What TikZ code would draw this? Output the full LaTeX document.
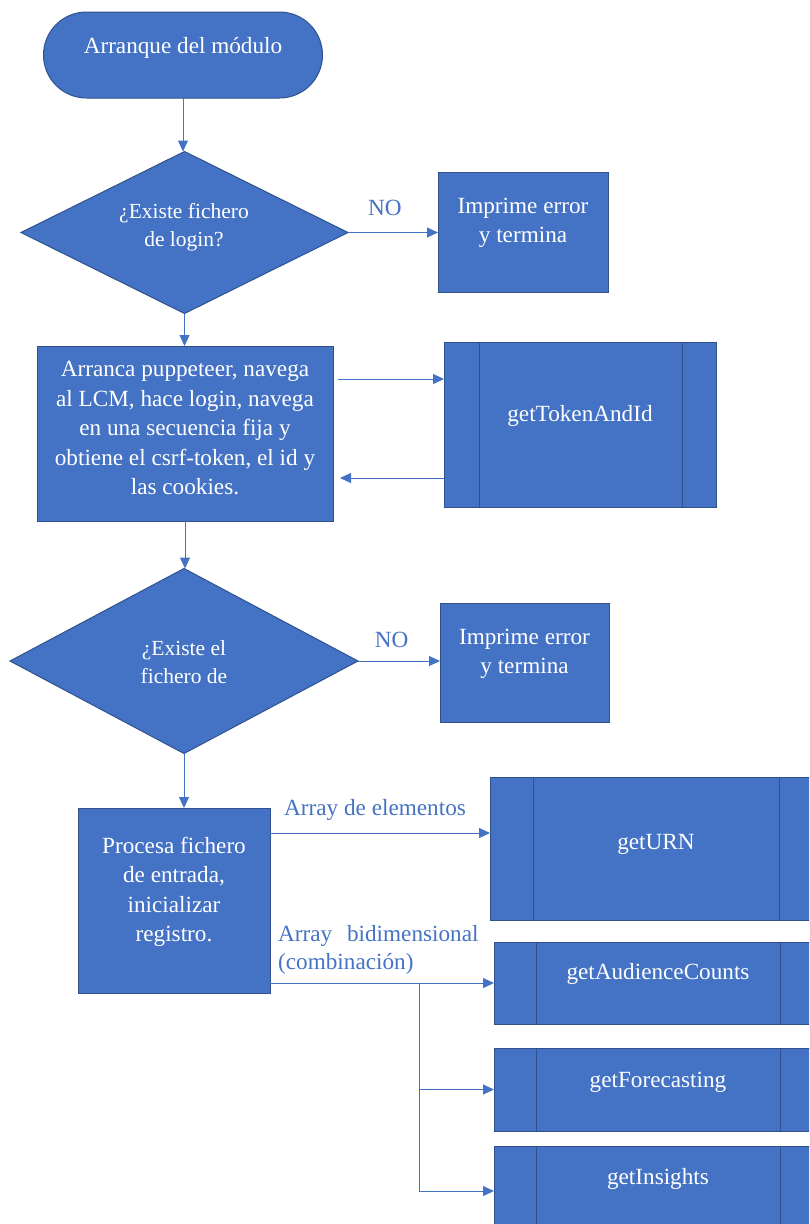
\documentclass[tikz,border=0pt]{standalone}
\usepackage{fontspec}
\setmainfont{Liberation Serif}
\usetikzlibrary{arrows.meta,shapes.geometric}
\definecolor{ofblue}{HTML}{4472C4}
\definecolor{ofborder}{HTML}{2F528F}
\begin{document}
\begin{tikzpicture}[x=1pt,y=-1pt,
  shapebox/.style={draw=ofborder, fill=ofblue, line width=1pt, inner sep=0pt, outer sep=0pt},
  subline/.style={draw=ofborder, line width=1pt},
  wtxt/.style={text=white, font=\fontsize{23.2}{29.5}\selectfont, align=center, inner sep=0pt},
  dtxt/.style={text=white, font=\fontsize{21.5}{28}\selectfont, align=center, inner sep=0pt},
  btxt/.style={text=ofblue, font=\fontsize{23.2}{28}\selectfont, inner sep=0pt},
  conn/.style={draw=ofblue, line width=1pt, -{Triangle[length=11pt,width=10pt]}},
]
\useasboundingbox (0,0) rectangle (809,1224);
\clip (0,0) rectangle (809,1224);

% start terminal
\node[shapebox, rounded corners=43pt, minimum width=279pt, minimum height=86pt] (term) at (183,55) {};
\node[wtxt] (termt) at (183,48) {Arranque del módulo};

% decision 1
\node[shapebox, diamond, minimum width=327pt, minimum height=162pt] (d1) at (184.5,232.5) {};
\node[dtxt] (d1t) at (184,227) {¿Existe fichero\\de login?};

% error 1
\node[shapebox, minimum width=170pt, minimum height=120pt] (err1) at (523,232) {};
\node[wtxt] (err1t) at (523,223) {Imprime error\\y termina};

% process 1
\node[shapebox, minimum width=296pt, minimum height=175pt] (proc) at (185,433.5) {};
\node[wtxt] (proct) at (185,428) {Arranca puppeteer, navega\\al LCM, hace login, navega\\en una secuencia fija y\\obtiene el csrf-token, el id y\\las cookies.};

% getTokenAndId
\node[shapebox, minimum width=272pt, minimum height=165pt] (tok) at (580,424.5) {};
\draw[subline] ([xshift=35pt]tok.north west) -- ([xshift=35pt]tok.south west);
\draw[subline] ([xshift=-34pt]tok.north east) -- ([xshift=-34pt]tok.south east);
\node[wtxt] (tokt) at (580,416) {getTokenAndId};

% decision 2
\node[shapebox, diamond, minimum width=348pt, minimum height=185pt] (d2) at (184,661) {};
\node[dtxt] (d2t) at (184,662) {¿Existe el\\fichero de};

% error 2
\node[shapebox, minimum width=169pt, minimum height=119pt] (err2) at (524.5,662.5) {};
\node[wtxt] (err2t) at (524.5,654) {Imprime error\\y termina};

% process 2
\node[shapebox, minimum width=192pt, minimum height=185pt] (pr2) at (174,900.5) {};
\node[wtxt] (pr2t) at (174,892) {Procesa fichero\\de entrada,\\inicializar\\registro.};

% getURN
\node[shapebox, minimum width=332pt, minimum height=143pt] (urn) at (656,848.5) {};
\draw[subline] ([xshift=43pt]urn.north west) -- ([xshift=43pt]urn.south west);
\draw[subline] ([xshift=-43pt]urn.north east) -- ([xshift=-43pt]urn.south east);
\node[wtxt] (urnt) at (656,844) {getURN};

% getAudienceCounts
\node[shapebox, minimum width=328pt, minimum height=82pt] (aud) at (658,983) {};
\draw[subline] ([xshift=42pt]aud.north west) -- ([xshift=42pt]aud.south west);
\draw[subline] ([xshift=-42pt]aud.north east) -- ([xshift=-42pt]aud.south east);
\node[wtxt] (audt) at (658,974) {getAudienceCounts};

% getForecasting
\node[shapebox, minimum width=328pt, minimum height=83pt] (fc) at (658,1089.5) {};
\draw[subline] ([xshift=42pt]fc.north west) -- ([xshift=42pt]fc.south west);
\draw[subline] ([xshift=-42pt]fc.north east) -- ([xshift=-42pt]fc.south east);
\node[wtxt] (fct) at (658,1082) {getForecasting};

% getInsights
\node[shapebox, minimum width=328pt, minimum height=90pt] (ins) at (658,1191) {};
\draw[subline] ([xshift=42pt]ins.north west) -- ([xshift=42pt]ins.south west);
\draw[subline] ([xshift=-42pt]ins.north east) -- ([xshift=-42pt]ins.south east);
\node[wtxt] (inst) at (658,1179) {getInsights};

% connectors
\draw[conn] (term.south) -- (term.south |- d1.north);
\draw[conn] (d1.east) -- (d1.east -| err1.west) node[btxt, pos=0.41, above=16pt] (no1) {NO};
\draw[conn] (d1.south) -- (d1.south |- proc.north);
\coordinate (a1) at (338,379);
\draw[conn] (a1) -- (a1 -| tok.west);
\coordinate (a2) at (340,478);
\draw[conn] (a2 -| tok.west) -- (a2);
\draw[conn] (proc.south) -- (proc.south |- d2.north);
\draw[conn] (d2.east) -- (d2.east -| err2.west) node[btxt, pos=0.41, above=13pt] (no2) {NO};
\draw[conn] (d2.south) -- (d2.south |- pr2.north);
\coordinate (b1) at ([yshift=-25pt]pr2.north east);
\draw[conn] (b1) -- (b1 -| urn.west);
\node[btxt, anchor=base west] (lab1) at (284,815) {Array de elementos};
\draw[conn] (pr2.east |- aud.west) -- (aud.west);
\node[btxt, align=left, anchor=west] (lab2) at (278,950) {Array\hspace{9pt} bidimensional\\(combinación)};
\coordinate (br) at (419,983);
\draw[conn] (br) |- (fc.west);
\draw[conn] (br) |- (ins.west);
\end{tikzpicture}
\end{document}
